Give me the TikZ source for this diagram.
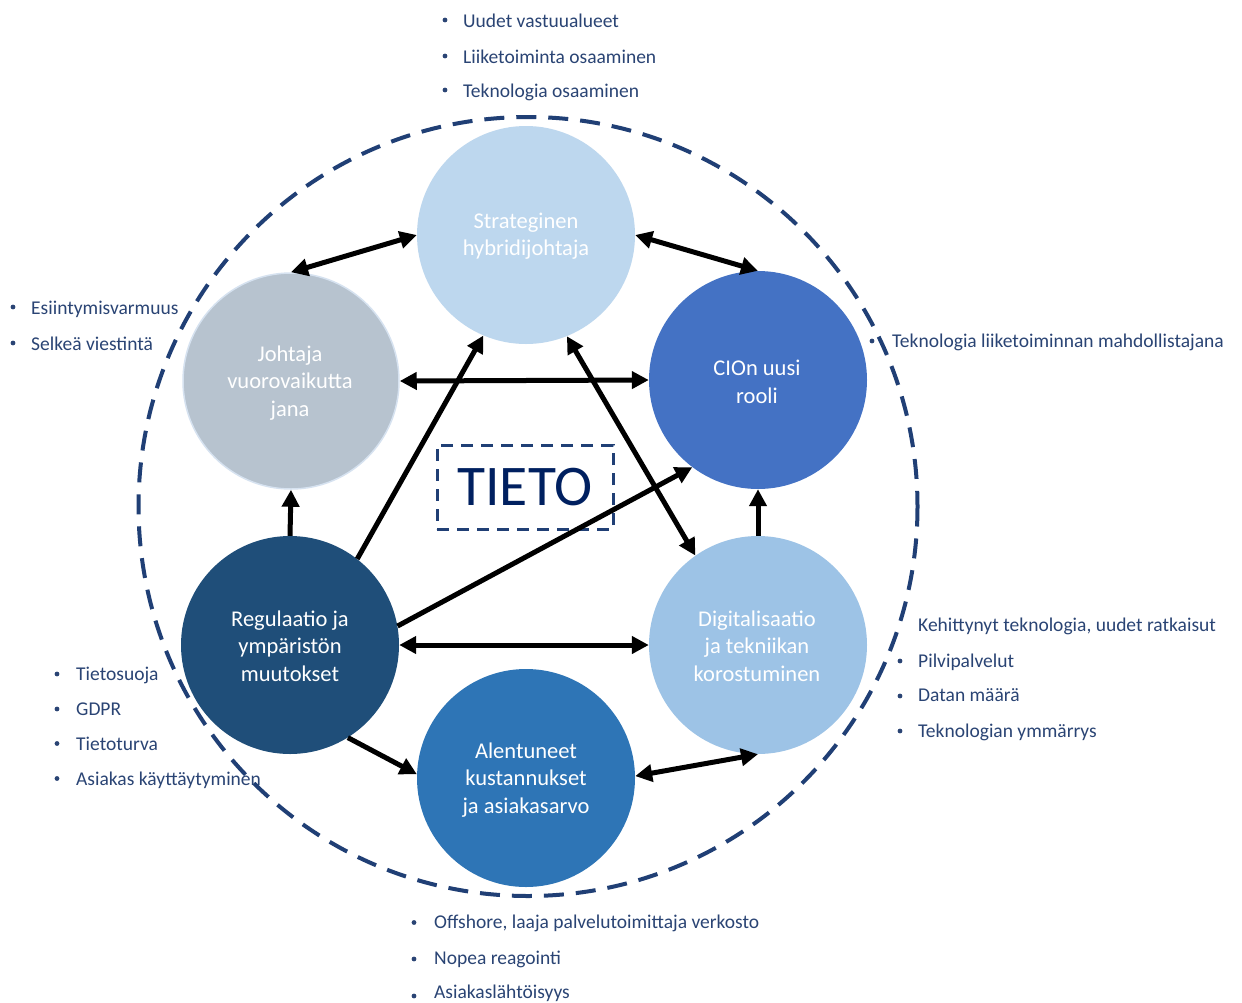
\documentclass[tikz,border=0pt]{standalone}
\usepackage{fontspec}
\setmainfont{Carlito}
\usetikzlibrary{arrows.meta}
\definecolor{txtblue}{HTML}{2A4474}
\definecolor{dashblue}{HTML}{203F75}
\definecolor{tietoblue}{HTML}{002060}
\definecolor{cStrat}{HTML}{BDD7EE}
\definecolor{cJoht}{HTML}{B7C3CF}
\definecolor{cJohtB}{HTML}{D6E2F0}
\definecolor{cCio}{HTML}{4472C4}
\definecolor{cReg}{HTML}{1F4E79}
\definecolor{cDig}{HTML}{9DC3E6}
\definecolor{cAlen}{HTML}{2E75B6}
\begin{document}
\begin{tikzpicture}[x=1pt,y=-1pt,
  circ/.style={circle, minimum size=218pt, inner sep=0pt, text=white, align=center,
    font=\fontsize{22.5}{27.5}\selectfont},
  ctext/.style={text=white, align=center, inner sep=0pt,
    font=\fontsize{22.5}{27.5}\selectfont},
  bul/.style={anchor=base west, text=txtblue, inner sep=0pt,
    font=\fontsize{19.5}{23}\selectfont},
  dotb/.style={fill=txtblue},
  tipA/.tip={Triangle[length=17pt,width=17pt]},
  arr/.style={line width=5pt, -tipA},
  darr/.style={line width=5pt, tipA-tipA}]
\useasboundingbox (0,0) rectangle (1242,1002);
\fill[white] (0,0) rectangle (1242,1002);

% big dashed circle
\draw[dashblue, line width=4pt, dash pattern=on 20pt off 12pt] (528,506.5) circle (389.5);

% circles
\node[circ, fill=cStrat] (s) at (526,235) {};
\node[circ, fill=cJoht, draw=cJohtB, line width=1.5pt, minimum size=216pt] (j) at (291,381) {};
\node[circ, fill=cCio] (c) at (758,380) {};
\node[circ, fill=cReg] (r) at (290,645) {};
\node[circ, fill=cDig] (d) at (758,645) {};
\node[circ, fill=cAlen] (a) at (526,778) {};
\node[ctext] (st) at (526,236) {Strateginen\\hybridijohtaja};
\node[ctext] (jt) at (290,383) {Johtaja\\vuorovaikutta\\jana};
\node[ctext] (ct) at (757,382) {CIOn uusi\\rooli};
\node[ctext] (rt) at (290,646) {Regulaatio ja\\ympäristön\\muutokset};
\node[ctext] (dt) at (757,646) {Digitalisaatio\\ja tekniikan\\korostuminen};
\node[ctext] (at) at (526,780) {Alentuneet\\kustannukset\\ja asiakasarvo};

% TIETO box
\node[draw=dashblue, line width=3pt, dash pattern=on 12pt off 8pt, minimum width=176pt,
  minimum height=84pt, inner sep=0pt, text=tietoblue, font=\fontsize{57.5}{60}\selectfont]
  (t) at (525,487) {TIETO};

% arrows
\draw[darr] (s.180) -- (j.90);
\draw[darr] (s.0) -- (c.90);
\draw[darr] (j.0) -- (c.180);
\draw[arr] (r.90) -- (j.270);
\draw[arr] (d.90) -- (c.270);
\draw[arr] (r.52) -- (s.247);
\draw[darr] (s.292.5) -- (d.125);
\draw[arr] (r.10.5) -- (c.233.5);
\draw[darr] (r.0) -- (d.180);
\draw[arr] (r.302) -- (a.178.5);
\draw[darr] (a.1.5) -- (d.270);

% bullet lists
\foreach \y in {20,56,90} \fill[dotb] (445,\y) circle (2.4);
\node[bul] (t1) at (463,27) {Uudet vastuualueet};
\node[bul] (t2) at (463,63) {Liiketoiminta osaaminen};
\node[bul] (t3) at (463,97) {Teknologia osaaminen};

\foreach \y in {307,343} \fill[dotb] (13,\y) circle (2.4);
\node[bul] (l1) at (31,314) {Esiintymisvarmuus};
\node[bul] (l2) at (31,350) {Selkeä viestintä};

\fill[dotb] (872,341) circle (2.4);
\node[bul] (r1) at (892,347.5) {Teknologia liiketoiminnan mahdollistajana};

\foreach \y in {661,696,731} \fill[dotb] (900,\y) circle (2.4);
\node[bul] (q1) at (918,631) {Kehittynyt teknologia, uudet ratkaisut};
\node[bul] (q2) at (918,667) {Pilvipalvelut};
\node[bul] (q3) at (918,701) {Datan määrä};
\node[bul] (q4) at (918,737) {Teknologian ymmärrys};

\foreach \y in {674,709,743.5,778.5} \fill[dotb] (57,\y) circle (2.4);
\node[bul] (p1) at (76,680) {Tietosuoja};
\node[bul] (p2) at (76,715) {GDPR};
\node[bul] (p3) at (76,750) {Tietoturva};
\node[bul] (p4) at (76,785) {Asiakas käyttäytyminen};

\foreach \y in {922.5,959,996} \fill[dotb] (414,\y) circle (2.4);
\node[bul] (b1) at (434,928) {Offshore, laaja palvelutoimittaja verkosto};
\node[bul] (b2) at (434,964.5) {Nopea reagointi};
\node[bul] (b3) at (434,998.5) {Asiakaslähtöisyys};
\end{tikzpicture}
\end{document}
